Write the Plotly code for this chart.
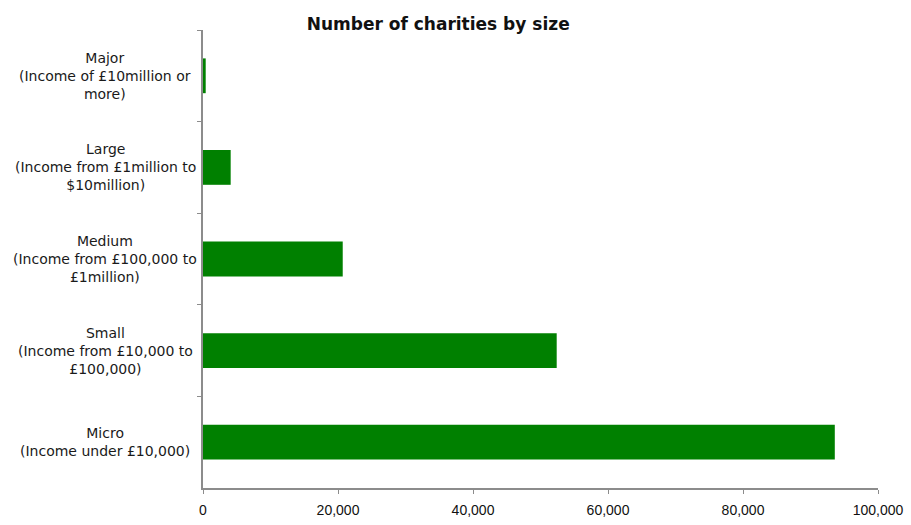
import plotly.graph_objects as go

categories = ["Major", "Large", "Medium", "Small", "Micro"]
label_texts = [
    "Major<br>(Income of £10million or<br>more)",
    "Large<br>(Income from £1million to<br>$10million)",
    "Medium<br>(Income from £100,000 to<br>£1million)",
    "Small<br>(Income from £10,000 to<br>£100,000)",
    "Micro<br>(Income under £10,000)",
]
counts = [400, 4100, 20700, 52400, 93600]
x_ticks = [0, 20000, 40000, 60000, 80000, 100000]

fig = go.Figure()
fig.add_trace(go.Bar(
    y=categories, x=counts, orientation="h",
    marker=dict(color="#008000", line=dict(width=0)),
))

for cat, txt in zip(categories, label_texts):
    fig.add_annotation(
        x=-0.145, xref="paper", y=cat, yref="y",
        text=txt, showarrow=False, align="center",
        xanchor="center", yanchor="middle",
        font=dict(family="DejaVu Sans, sans-serif", size=14, color="#1a1a1a"),
    )

fig.update_layout(
    width=911, height=525,
    margin=dict(l=203, r=33, t=30, b=37, autoexpand=False),
    paper_bgcolor="white", plot_bgcolor="white",
    bargap=0.62,
    showlegend=False,
    title=dict(
        text="<b>Number of charities by size</b>",
        x=0.481, xanchor="center", xref="container",
        y=1 - 24 / 525, yanchor="middle", yref="container",
        font=dict(family="DejaVu Sans, sans-serif", size=17, color="#111"),
    ),
)
fig.update_xaxes(
    range=[0, 100000], tickvals=x_ticks, tickformat=",",
    showgrid=False, zeroline=False,
    showline=True, linecolor="#8c8c8c", linewidth=1.5,
    ticks="outside", ticklen=4, tickcolor="#8c8c8c", ticklabelstandoff=4,
    tickfont=dict(family="Liberation Sans, Arial, sans-serif", size=14, color="#111"),
)
fig.update_yaxes(
    autorange="reversed", showticklabels=False,
    showgrid=False, zeroline=False,
    showline=True, linecolor="#8c8c8c", linewidth=1.5,
    ticks="outside", ticklen=4, tickcolor="#8c8c8c", tickson="boundaries",
)

fig.write_html("out.html")
